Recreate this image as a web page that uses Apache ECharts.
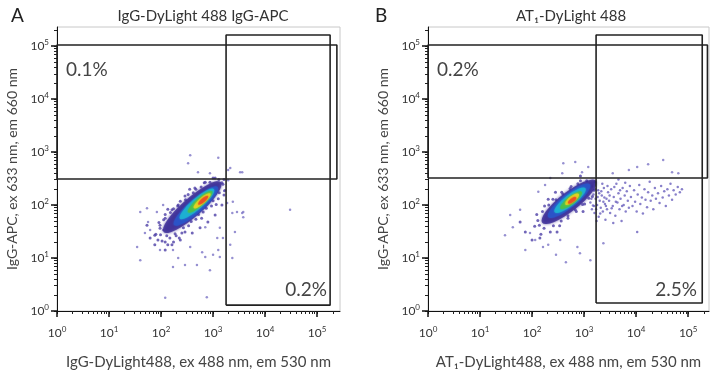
<!DOCTYPE html>
<html>
<head>
<meta charset="utf-8">
<script src="https://cdn.jsdelivr.net/npm/echarts@6/dist/echarts.min.js"></script>
<style>
  html, body { margin: 0; padding: 0; background: #fff; }
  #chart { width: 714px; height: 375px; }
</style>
</head>
<body>
<div id="chart"></div>
<script>
// axis ticks, in log10 units
const decades = [0, 1, 2, 3, 4, 5]
const minorMult = [2, 3, 4, 5, 6, 7, 8, 9]

// panel A: IgG control
const gateUpperA = [[0, 2.49], [5.38, 2.49], [5.38, 5.02], [0, 5.02], [0, 2.49]]
const gateRightA = [[3.25, 0.11], [5.25, 0.11], [5.25, 5.21], [3.25, 5.21], [3.25, 0.11]]
// centres of the density bands, outer (purple) to inner (red)
const bandsA = [[2.60, 1.96], [2.67, 1.98], [2.69, 2.02], [2.75, 2.06], [2.79, 2.08], [2.81, 2.09]]
const fringeA = [
  [2.24, 1.30], [1.96, 1.67], [2.40, 1.47], [2.08, 1.82], [2.53, 1.61], [2.24, 1.93],
  [2.67, 1.73], [2.37, 2.07], [2.81, 1.87], [2.52, 2.20], [2.97, 1.98], [2.67, 2.30],
  [3.10, 2.12], [2.83, 2.42], [3.22, 2.27], [3.00, 2.51], [3.21, 2.48], [1.99, 1.44],
  [2.02, 1.32], [2.35, 1.38], [2.78, 1.75], [2.55, 2.30], [2.13, 1.92], [3.06, 2.01],
  [1.88, 1.43], [1.94, 1.34], [2.08, 1.30], [2.17, 1.38], [2.13, 1.25], [2.37, 1.34],
  [2.29, 1.42], [2.46, 1.49], [1.98, 1.62], [2.08, 1.75], [2.21, 1.91], [2.33, 2.00],
  [2.46, 2.17], [2.65, 2.32], [2.85, 2.43], [3.04, 2.51], [3.17, 2.42], [3.21, 2.19],
  [3.17, 2.00], [3.04, 1.81], [2.90, 1.68], [2.75, 1.57], [2.60, 1.47],
  [2.11, 1.42], [1.98, 1.56], [2.27, 1.46], [2.05, 1.72], [2.43, 1.57], [2.18, 1.86],
  [2.58, 1.69], [2.32, 1.98], [2.72, 1.82], [2.47, 2.10], [2.87, 1.94], [2.62, 2.23],
  [3.00, 2.08], [2.77, 2.34], [3.12, 2.23], [2.94, 2.43], [3.19, 2.39], [3.11, 2.48],
  [1.90, 1.45], [1.79, 1.38], [1.88, 1.25], [2.08, 1.15], [2.21, 1.25], [1.73, 1.62]
]
const outliersA = [
  [2.56, 2.94], [2.52, 2.79], [2.71, 2.62], [3.10, 2.89], [2.94, 2.60], [3.33, 2.70],
  [3.52, 2.62], [3.38, 2.06], [3.46, 1.87], [3.56, 1.85], [1.60, 1.87], [1.73, 1.94],
  [1.75, 1.68], [1.92, 1.87], [2.04, 2.00], [2.04, 1.53], [1.79, 1.53], [1.69, 1.47],
  [1.98, 1.15], [2.23, 1.15], [2.33, 1.00], [2.46, 0.87], [2.85, 1.02], [3.10, 1.15],
  [3.13, 1.57], [3.19, 1.38], [3.33, 1.25], [2.69, 0.87], [2.23, 0.83], [1.60, 0.96],
  [1.54, 1.21], [3.29, 2.47], [3.23, 2.28], [3.27, 2.04], [2.79, 1.11], [2.56, 1.21],
  [3.29, 2.66], [3.56, 2.62], [3.58, 1.87], [3.58, 1.77], [3.37, 1.85], [3.42, 1.49],
  [4.48, 1.91], [2.85, 1.58], [3.08, 1.38], [3.00, 1.06], [3.13, 1.02], [3.37, 1.00],
  [2.94, 0.77], [2.88, 0.26], [2.08, 0.25]
]

// panel B: AT1 antibody
const gateUpperB = [[0, 2.51], [5.37, 2.51], [5.37, 5.02], [0, 5.02], [0, 2.51]]
const gateRightB = [[3.23, 0.15], [5.27, 0.15], [5.27, 5.21], [3.23, 5.21], [3.23, 0.15]]
const bandsB = [[2.71, 2.06], [2.71, 2.08], [2.73, 2.09], [2.75, 2.09], [2.77, 2.11], [2.77, 2.09]]
const fringeB = [
  [2.35, 1.49], [2.09, 1.82], [2.53, 1.61], [2.24, 1.98], [2.69, 1.75], [2.40, 2.11],
  [2.85, 1.88], [2.57, 2.24], [3.01, 2.02], [2.75, 2.35], [3.16, 2.16], [2.93, 2.46],
  [3.21, 2.44], [2.14, 1.62], [2.17, 1.45], [2.48, 1.49], [2.98, 1.88], [2.45, 2.24],
  [2.93, 2.55], [2.31, 2.11],
  [2.23, 1.56], [2.11, 1.71], [2.41, 1.61], [2.20, 1.88], [2.56, 1.70], [2.32, 2.00],
  [2.69, 1.80], [2.46, 2.10], [2.83, 1.91], [2.59, 2.21], [2.97, 2.01], [2.73, 2.31],
  [3.09, 2.13], [2.88, 2.40], [3.19, 2.28], [3.05, 2.46], [2.05, 1.60], [1.87, 1.49],
  [2.00, 1.34], [2.15, 1.38], [1.77, 1.68]
]
const outliersB = [
  [1.63, 1.58], [1.77, 1.91], [2.21, 1.21], [2.87, 1.21], [3.37, 1.28], [1.96, 1.47],
  [2.06, 1.34], [2.31, 1.25], [2.46, 1.06], [2.65, 0.92], [2.92, 1.09], [3.12, 0.96],
  [2.54, 1.34], [1.87, 1.15], [1.58, 1.81], [1.48, 1.43],
  [2.60, 2.79], [2.83, 2.81], [3.08, 2.72], [2.58, 2.60], [2.96, 2.62], [2.25, 2.38],
  [2.35, 2.51], [2.12, 2.25],
  [4.02, 2.72], [4.23, 2.77], [4.52, 2.85], [4.69, 2.62], [4.81, 2.60], [3.55, 2.60], [3.86, 2.66]
]
// AT1-positive events spreading to the right of the gate line
const tailB = [
  [3.12, 2.05], [3.15, 1.92], [3.18, 2.20], [3.20, 1.85], [3.22, 2.12], [3.25, 2.00],
  [3.27, 2.28], [3.28, 1.78], [3.30, 2.08], [3.32, 1.95], [3.34, 2.18], [3.36, 1.88],
  [3.38, 2.32], [3.40, 2.02], [3.41, 1.72], [3.43, 2.12], [3.15, 2.35], [3.24, 1.70],
  [3.35, 2.40], [3.19, 1.98], [3.29, 2.22], [3.37, 2.06], [3.44, 1.92], [3.46, 2.24],
  [3.14, 2.12], [3.17, 1.99], [3.21, 2.30], [3.23, 1.92], [3.26, 2.15], [3.31, 1.84],
  [3.33, 2.26], [3.39, 2.14], [3.42, 1.98], [3.45, 2.36], [3.49, 2.18], [3.53, 1.94],
  [3.58, 2.34], [3.61, 2.06], [3.69, 2.28], [3.73, 1.98],
  [3.48, 2.08], [3.50, 1.85], [3.52, 2.30], [3.55, 1.98], [3.57, 2.15], [3.60, 1.80],
  [3.62, 2.40], [3.64, 2.05], [3.66, 2.22], [3.68, 1.92], [3.70, 2.12], [3.72, 1.70],
  [3.74, 2.32], [3.76, 2.00], [3.78, 2.18], [3.80, 1.88], [3.82, 2.26], [3.84, 2.08],
  [3.86, 1.95], [3.88, 2.36], [3.56, 1.66], [3.66, 2.48], [3.79, 2.42],
  [3.90, 2.15], [3.93, 1.98], [3.96, 2.28], [3.98, 2.06], [4.01, 1.88], [4.03, 2.20],
  [4.06, 2.38], [4.08, 2.02], [4.11, 2.14], [4.13, 1.84], [4.16, 2.30], [4.18, 2.10],
  [4.21, 1.96], [4.23, 2.24], [4.26, 2.44], [4.28, 2.08], [4.31, 2.18], [4.33, 1.92],
  [4.36, 2.32], [4.38, 2.12], [4.02, 1.49],
  [4.42, 2.22], [4.45, 2.04], [4.48, 2.36], [4.51, 2.14], [4.54, 2.26], [4.57, 1.98],
  [4.60, 2.30], [4.63, 2.18], [4.66, 2.40], [4.69, 2.10], [4.72, 2.28], [4.76, 2.20],
  [4.80, 2.34], [4.84, 2.24], [4.88, 2.30]
]

const allTicks = []
decades.forEach(d => minorMult.forEach(m => allTicks.push(d + Math.log10(m))))
decades.forEach(d => allTicks.push(d))

const font = 'Lato'
const bandColors = ['#3b2c96', '#2b55c9', '#1db4d2', '#4cc046', '#e8d51f', '#ec4a22']
const bandSizesA = [[76, 19], [58, 14], [45, 11], [32, 8], [22, 6], [13, 4]]
const bandSizesB = [[68, 19], [53, 14], [39, 11], [27, 8], [17, 6], [10, 4]]
const ellipse = 'path://M0,50 A50,50 0 1,1 100,50 A50,50 0 1,1 0,50 Z'

const grids = [
  { left: 57, top: 27, width: 283, height: 284 },
  { left: 428, top: 27, width: 281, height: 284 }
]
const xMax = [5.44, 5.40]
const yMax = 5.36
const xNames = ['IgG-DyLight488, ex 488 nm, em 530 nm', 'AT\u2081-DyLight488, ex 488 nm, em 530 nm']
const yName = 'IgG-APC, ex 633 nm, em 660 nm'

const powLabel = {
  customValues: decades,
  formatter: v => '{b|10}{s|' + v + '}',
  rich: {
    b: { fontSize: 12, fontFamily: font, color: '#333', lineHeight: 16 },
    s: { fontSize: 8, fontFamily: font, color: '#333', verticalAlign: 'top' }
  }
}

const xAxis = []
const yAxis = []
const grid = []
// main axes: labels plus the short (minor) ticks
grids.forEach((g, i) => {
  grid.push(Object.assign({ show: true, borderColor: '#c8c8c8', borderWidth: 1 }, g))
  xAxis.push({
    type: 'value', gridIndex: i, min: 0, max: xMax[i],
    axisLine: { lineStyle: { color: '#111', width: 1 } },
    axisTick: { customValues: allTicks.filter(t => t < xMax[i]), length: 3, lineStyle: { color: '#222' } },
    axisLabel: Object.assign({ margin: 14 }, powLabel),
    splitLine: { show: false },
    name: xNames[i], nameLocation: 'middle', nameGap: 44,
    nameTextStyle: { fontSize: 15, fontFamily: font, color: '#444' }
  })
  yAxis.push({
    type: 'value', gridIndex: i, min: 0, max: yMax,
    axisLine: { lineStyle: { color: '#111', width: 1 } },
    axisTick: { customValues: allTicks.filter(t => t < yMax), length: 3, lineStyle: { color: '#222' } },
    axisLabel: Object.assign({ margin: 8 }, powLabel),
    splitLine: { show: false },
    name: yName, nameLocation: 'middle', nameGap: 38,
    nameTextStyle: { fontSize: 14, fontFamily: font, color: '#444' }
  })
})
// overlaid grids carrying the long decade ticks
grids.forEach((g, i) => {
  grid.push(Object.assign({}, g))
  xAxis.push({
    type: 'value', gridIndex: i + 2, min: 0, max: xMax[i],
    axisLine: { show: true, lineStyle: { color: 'rgba(0,0,0,0)' } },
    axisLabel: { show: false }, splitLine: { show: false },
    axisTick: { show: true, customValues: decades, length: 6, lineStyle: { color: '#111', width: 1.5 } }
  })
  yAxis.push({
    type: 'value', gridIndex: i + 2, min: 0, max: yMax,
    axisLine: { show: true, lineStyle: { color: 'rgba(0,0,0,0)' } },
    axisLabel: { show: false }, splitLine: { show: false },
    axisTick: { show: true, customValues: decades, length: 6, lineStyle: { color: '#111', width: 1.5 } }
  })
})

function panelSeries(i, bands, sizes, rot, fringe, outliers, extra, gates) {
  const out = []
  const base = { xAxisIndex: i, yAxisIndex: i, silent: true, animation: false }
  out.push(Object.assign({ type: 'scatter', data: outliers, symbolSize: 2.5,
    itemStyle: { color: '#7c74c6' } }, base))
  if (extra) {
    out.push(Object.assign({ type: 'scatter', data: extra, symbolSize: 2.5,
      itemStyle: { color: '#6a60bd' } }, base))
  }
  out.push(Object.assign({ type: 'scatter', data: fringe, symbolSize: 3,
    itemStyle: { color: '#4e40a6' } }, base))
  bands.forEach((b, k) => {
    out.push(Object.assign({
      type: 'scatter', data: [b], symbol: ellipse, symbolSize: sizes[k], symbolRotate: rot,
      itemStyle: { color: bandColors[k], shadowBlur: k === 0 ? 3 : 2, shadowColor: bandColors[k] }
    }, base))
  })
  gates.forEach(gd => {
    out.push(Object.assign({ type: 'line', data: gd, showSymbol: false, symbol: 'none',
      lineStyle: { color: '#222', width: 1.6 }, z: 5 }, base))
  })
  return out
}

const series = [].concat(
  panelSeries(0, bandsA, bandSizesA, 41, fringeA, outliersA, null, [gateUpperA, gateRightA]),
  panelSeries(1, bandsB, bandSizesB, 38, fringeB, outliersB, tailB, [gateUpperB, gateRightB])
)
// empty series so the tick-only axes are bound to something
series.push({ type: 'scatter', xAxisIndex: 2, yAxisIndex: 2, data: [] })
series.push({ type: 'scatter', xAxisIndex: 3, yAxisIndex: 3, data: [] })

const txt = (text, x, y, size, align) => ({
  type: 'text', x: x, y: y,
  style: { text: text, fontSize: size, fontFamily: font, fill: '#444', align: align || 'left', verticalAlign: 'middle' }
})

const option = {
  backgroundColor: '#fff',
  title: [
    { text: 'A', left: 6, top: 1, textStyle: { fontSize: 19, fontWeight: 'normal', fontFamily: font, color: '#222' } },
    { text: 'IgG-DyLight 488 IgG-APC', left: 198, top: 4, textAlign: 'center',
      textStyle: { fontSize: 15, fontWeight: 'normal', fontFamily: font, color: '#333' } },
    { text: 'B', left: 370, top: 1, textStyle: { fontSize: 19, fontWeight: 'normal', fontFamily: font, color: '#222' } },
    { text: 'AT\u2081-DyLight 488', left: 566, top: 4, textAlign: 'center',
      textStyle: { fontSize: 15, fontWeight: 'normal', fontFamily: font, color: '#333' } }
  ],
  grid: grid,
  xAxis: xAxis,
  yAxis: yAxis,
  graphic: [
    txt('0.1%', 66, 70, 19),
    txt('0.2%', 327, 290, 19, 'right'),
    txt('0.2%', 437, 70, 19),
    txt('2.5%', 697, 290, 19, 'right')
  ],
  series: series
}

echarts.init(document.getElementById('chart')).setOption(option)
</script>
</body>
</html>
